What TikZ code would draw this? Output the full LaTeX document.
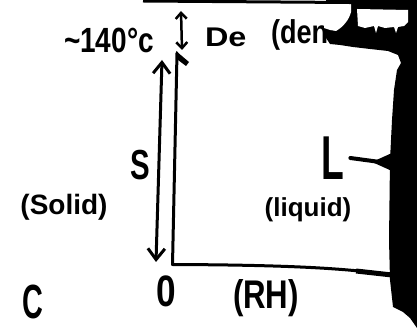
\documentclass[tikz,border=0pt]{standalone}
\usepackage{fontspec}
\setmainfont{Liberation Sans}
\usetikzlibrary{arrows.meta}
\begin{document}
\begin{tikzpicture}[x=1pt,y=-1pt,
  ink/.style={line width=3pt, line cap=round, line join=round},
  lbl/.style={inner sep=0pt, outer sep=0pt},
  barb/.style={ink, {Straight Barb[length=11pt,width=17pt]}-{Straight Barb[length=11pt,width=17pt]}},
  smallbarb/.style={line width=2.5pt, line cap=round, {Straight Barb[length=6pt,width=11pt]}-{Straight Barb[length=6pt,width=11pt]}},
  blob/.style={fill=black},
]
\useasboundingbox (0,0) rectangle (417,328);
\fill[white] (0,0) rectangle (417,328);

% ---- texts
\node[lbl, anchor=base west, font=\bfseries\fontsize{35}{35}\selectfont] (temp) at (64,53) {\scalebox{0.8}[1]{\textasciitilde 140°c}};
\node[lbl, anchor=base west, font=\bfseries\fontsize{27}{27}\selectfont] (de) at (205,47) {\scalebox{1.2}[1]{De}};
\node[lbl, anchor=base west, font=\bfseries\fontsize{33}{33}\selectfont] (den) at (271,44) {\scalebox{0.82}[1]{(den}};
\node[lbl, font=\bfseries\fontsize{42}{42}\selectfont] (s) at (140,165) {\scalebox{0.7}[1]{S}};
\node[lbl, font=\bfseries\fontsize{28}{28}\selectfont] (solid) at (64,207) {(Solid)};
\node[lbl, font=\bfseries\fontsize{44}{44}\selectfont] (zero) at (166,291) {\scalebox{0.8}[1]{0}};
\node[lbl, font=\bfseries\fontsize{48}{48}\selectfont] (c) at (33,302) {\scalebox{0.6}[1]{C}};
\node[lbl, font=\bfseries\fontsize{40}{40}\selectfont] (rh) at (266,298) {\scalebox{0.78}[1]{(RH)}};
\node[lbl, font=\bfseries\fontsize{62}{62}\selectfont] (L) at (333,158) {\scalebox{0.6}[1]{L}};
\node[lbl, font=\bfseries\fontsize{26}{26}\selectfont] (liquid) at (308,210) {(liquid)};

% ---- black smudge on the right
\fill[blob] (326,0) -- (417,0) -- (417,328) -- (410,318) -- (403,312) -- (393,307)
  -- (390,280) -- (389,240) -- (390,160) -- (392,120) -- (394,90) -- (397,70)
  -- (401,63) -- (398,55) -- (388,51) -- (370,49) -- (353,47) -- (340,45)
  -- (330,44) -- (326,38) -- cycle;
\fill[white] (324,3) -- (351,3) -- (351,12) .. controls (349,20) and (343,27) .. (336,31)
  -- (330,30) -- (324,28) -- cycle;
\fill[white] (357,9) -- (408,10) -- (408,22) -- (404,26) -- (398,27) -- (396,33) -- (394,27)
  -- (385,28) -- (378,26) -- (376,33) -- (374,26) -- (365,28) -- (358,26) -- cycle;
\draw[line width=3pt] (143,1) -- (417,3);

% ---- arrows and axes
\coordinate (sTop) at (162,60);
\coordinate (sBot) at (156,262);
\draw[barb] (sBot) -- (sTop);

\coordinate (dTop) at (181,11);
\coordinate (dBot) at (182,50);
\draw[smallbarb] (dBot) -- (dTop);

\coordinate (yTop) at (177,53);
\coordinate (origin) at (172.5,264.5);
\coordinate (xEnd) at (392,275);
\draw[ink] (yTop) -- (origin) .. controls (300,265) and (350,269) .. (xEnd);
\fill (176,51) -- (189,62) -- (186,66) -- (178,60) -- cycle;
\draw[line width=5pt] (356,271) -- (xEnd);

\coordinate (blobL) at (392,162);
\draw[line width=4pt, line cap=round] ([xshift=6pt]L.east) -- (380,162);
\fill (372,162) -- ([yshift=-9pt]blobL) -- ([yshift=9pt]blobL) -- cycle;
\end{tikzpicture}
\end{document}
